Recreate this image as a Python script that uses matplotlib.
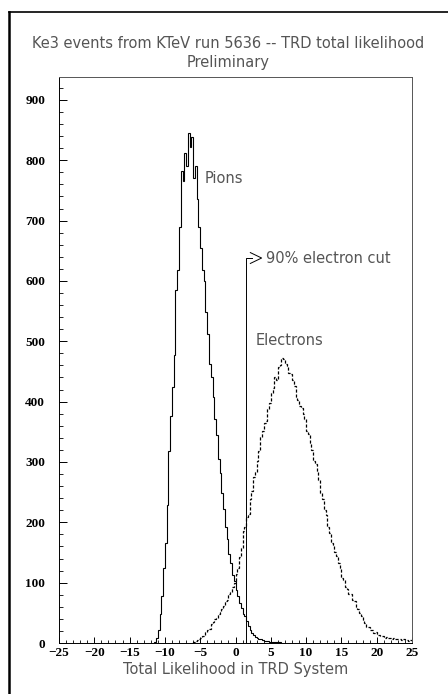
import numpy as np
import matplotlib
matplotlib.use("Agg")
import matplotlib.pyplot as plt
from matplotlib.lines import Line2D
from matplotlib.ticker import MultipleLocator

# Histogram contents (bin width 0.25)
BIN_W = 0.25
pion_lo = -11.5
pion_counts = [
    2, 8, 22, 48, 78, 125, 165, 228, 318, 376, 425, 478,
    585, 618, 690, 782, 765, 812, 790, 845, 822, 838, 770, 790,
    735, 690, 655, 618, 600, 548, 512, 462, 440, 408, 372, 345,
    305, 282, 248, 222, 192, 172, 148, 132, 112, 102, 88, 78,
    66, 58, 48, 44, 36, 28, 22, 17, 14, 10, 8, 7,
    6, 5, 4, 4, 3, 2, 2, 2, 1, 1, 1, 1,
]
electron_lo = -6.0
electron_counts = [
    2, 3, 5, 6, 9, 12, 13, 18, 21, 24, 31, 34,
    39, 41, 48, 51, 57, 61, 69, 72, 81, 85, 93, 99,
    114, 124, 142, 158, 186, 192, 208, 214, 238, 252, 275, 284,
    302, 318, 342, 352, 364, 368, 388, 398, 415, 422, 440, 436,
    458, 460, 472, 470, 462, 459, 448, 446, 436, 426, 408, 402,
    393, 390, 380, 372, 352, 347, 332, 320, 302, 297, 283, 270,
    248, 238, 220, 212, 193, 182, 166, 162, 150, 144, 133, 124,
    108, 104, 93, 90, 82, 81, 72, 69, 60, 57, 49, 45,
    37, 33, 27, 26, 21, 21, 17, 18, 15, 14, 11, 12,
    9, 10, 8, 9, 7, 8, 7, 6, 7, 6, 5, 6,
    5, 5, 4, 5,
]
cut_value = 1.5
cut_height = 638

TXT = "#555555"
SANS = ["DejaVu Sans"]

fig = plt.figure(figsize=(4.48, 6.94), dpi=100)
ax = fig.add_axes([59 / 448, 51 / 694, 353 / 448, 566 / 694])

pion_edges = pion_lo + BIN_W * np.arange(len(pion_counts) + 1)
elec_edges = electron_lo + BIN_W * np.arange(len(electron_counts) + 1)
ax.stairs(pion_counts, pion_edges, color="black", lw=0.8)
ax.stairs(electron_counts, elec_edges, color="black", lw=0.9,
          linestyle=(0, (2.5, 1.5)))

# the cut marker with its little arrow
ax.plot([cut_value, cut_value, cut_value + 0.9], [0, cut_height, cut_height],
        color="black", lw=0.7)
ax.plot([cut_value + 0.6, cut_value + 2.2, cut_value + 0.6],
        [cut_height + 9, cut_height, cut_height - 9], color="black", lw=0.7)
ax.text(cut_value + 2.75, cut_height, "90% electron cut", fontsize=10.5,
        family=SANS, color=TXT, va="center", ha="left")
ax.text(-4.4, 769, "Pions", fontsize=10.5, family=SANS,
        color=TXT, va="center", ha="left")
ax.text(2.9, 502, "Electrons", fontsize=10.5, family=SANS,
        color=TXT, va="center", ha="left")

ax.set_xlim(-25, 25)
ax.set_ylim(0, 938)
ax.xaxis.set_major_locator(MultipleLocator(5))
ax.xaxis.set_minor_locator(MultipleLocator(1))
ax.yaxis.set_major_locator(MultipleLocator(100))
ax.yaxis.set_minor_locator(MultipleLocator(20))
ax.tick_params(axis="x", which="major", direction="in", length=4.5, width=0.7,
               pad=3, labelsize=9.5)
ax.tick_params(axis="x", which="minor", direction="in", length=2.5, width=0.6)
ax.tick_params(axis="y", which="major", direction="in", length=6, width=0.7,
               pad=10, labelsize=9.5)
ax.tick_params(axis="y", which="minor", direction="in", length=3, width=0.6)
for lab in ax.get_xticklabels() + ax.get_yticklabels():
    lab.set_fontfamily("Liberation Serif")
    lab.set_fontweight("bold")

for side in ["top", "right", "bottom", "left"]:
    ax.spines[side].set_linewidth(0.7)
    ax.spines[side].set_color("#555555")
ax.spines["left"].set_color("black")
ax.spines["bottom"].set_color("black")

ax.set_xlabel("Total Likelihood in TRD System", fontsize=10.5, family=SANS,
              color=TXT, labelpad=2)

fig.text(0.509, 1 - 43 / 694, "Ke3 events from KTeV run 5636 -- TRD total likelihood",
         fontsize=10.5, family=SANS, color=TXT, ha="center", va="center")
fig.text(0.509, 1 - 62 / 694, "Preliminary", fontsize=10.5, family=SANS,
         color=TXT, ha="center", va="center")

# outer frame (cut off at right and bottom like the scan)
fig.add_artist(Line2D([9 / 448, 9 / 448], [0, 1 - 12 / 694], color="black",
                      lw=1.8, transform=fig.transFigure))
fig.add_artist(Line2D([9 / 448, 1], [1 - 12 / 694, 1 - 12 / 694], color="black",
                      lw=1.2, transform=fig.transFigure))

fig.savefig("out.png", dpi=100)
